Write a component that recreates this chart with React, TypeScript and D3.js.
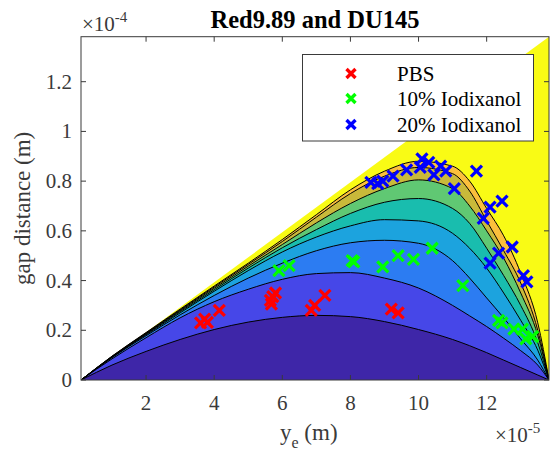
import React from 'react';
import * as d3 from 'd3';

// ---------- data (x in units of 1e-5 m, y in units of 1e-4 m) ----------
const TITLE = 'Red9.89 and DU145';
const X_TICKS = [2, 4, 6, 8, 10, 12];
const X_TICK_LABELS = ['2', '4', '6', '8', '10', '12'];
const Y_TICKS = [0, 0.2, 0.4, 0.6, 0.8, 1, 1.2];
const Y_TICK_LABELS = ['0', '0.2', '0.4', '0.6', '0.8', '1', '1.2'];
const X_DOMAIN = [0.09, 13.83];
const Y_DOMAIN = [0, 1.381];

// boundary of the defined region (gap distance = y_e)
const DIAGONAL = [[0.09, 0], [13.83, 1.381]];

// contour level boundaries, sampled at CURVE_X
const CURVE_X = [0.09, 1, 2, 3, 4, 5, 6, 7, 8, 9, 10, 11, 11.5, 12, 12.5, 13, 13.5, 13.83];
const LEVEL_1 = [0, 0.06, 0.115, 0.163, 0.203, 0.233, 0.252, 0.26, 0.255, 0.235, 0.203, 0.163, 0.138, 0.11, 0.08, 0.05, 0.02, 0];
const LEVEL_2 = [0, 0.085, 0.17, 0.25, 0.315, 0.365, 0.405, 0.428, 0.432, 0.41, 0.37, 0.3, 0.258, 0.215, 0.168, 0.118, 0.06, 0];
const LEVEL_3 = [0, 0.09, 0.178, 0.262, 0.34, 0.41, 0.47, 0.52, 0.552, 0.562, 0.55, 0.48, 0.41, 0.33, 0.25, 0.165, 0.08, 0];
const LEVEL_4 = [0, 0.092, 0.182, 0.27, 0.357, 0.44, 0.515, 0.575, 0.62, 0.645, 0.64, 0.59, 0.53, 0.45, 0.35, 0.24, 0.12, 0];
const LEVEL_5 = [0, 0.093, 0.185, 0.275, 0.363, 0.45, 0.532, 0.605, 0.67, 0.715, 0.73, 0.69, 0.63, 0.53, 0.42, 0.3, 0.15, 0];
const LEVEL_6 = [0, 0.094, 0.187, 0.279, 0.369, 0.458, 0.545, 0.632, 0.71, 0.77, 0.805, 0.77, 0.7, 0.6, 0.49, 0.35, 0.18, 0];
const LEVEL_7 = [0, 0.095, 0.189, 0.282, 0.374, 0.465, 0.557, 0.655, 0.75, 0.82, 0.855, 0.83, 0.76, 0.64, 0.52, 0.39, 0.2, 0];
const LEVEL_8 = [0, 0.096, 0.191, 0.285, 0.378, 0.47, 0.565, 0.665, 0.765, 0.84, 0.88, 0.86, 0.8, 0.69, 0.58, 0.43, 0.23, 0];
const LEVELS = [LEVEL_1, LEVEL_2, LEVEL_3, LEVEL_4, LEVEL_5, LEVEL_6, LEVEL_7, LEVEL_8];
// colour of band below each level boundary, plus the top band
const BAND_COLORS = ['#3e26a8', '#4647e8', '#2c7cf2', '#1ca3de', '#19bdae', '#60c873', '#c9b93a', '#fbbf3c', '#f9fb15'];

const SERIES_NAMES = ['PBS', '10% Iodixanol', '20% Iodixanol'];
const SERIES_COLORS = ['#ff0000', '#00ff00', '#0000ff'];
const PBS = [
  [3.6, 0.23], [3.72, 0.245], [3.8, 0.232], [4.15, 0.28],
  [5.65, 0.32], [5.72, 0.335], [5.8, 0.35], [5.68, 0.305],
  [6.85, 0.28], [6.95, 0.3], [7.25, 0.34], [9.2, 0.285], [9.4, 0.27],
];
const IODIXANOL_10 = [
  [5.9, 0.44], [6.2, 0.46], [8.05, 0.48], [8.1, 0.475], [8.95, 0.455],
  [9.4, 0.5], [9.85, 0.485], [10.4, 0.53], [11.3, 0.38], [12.35, 0.24],
  [12.45, 0.23], [12.8, 0.205], [13.05, 0.205], [13.15, 0.165], [13.35, 0.175],
];
const IODIXANOL_20 = [
  [8.6, 0.795], [8.8, 0.79], [8.95, 0.8], [9.25, 0.82], [9.65, 0.845],
  [10.05, 0.855], [10.1, 0.89], [10.3, 0.875], [10.45, 0.825], [10.65, 0.86],
  [10.8, 0.84], [11.05, 0.77], [11.7, 0.84], [11.9, 0.65], [12.1, 0.695],
  [12.45, 0.72], [12.1, 0.47], [12.35, 0.51], [12.75, 0.535], [13.08, 0.42], [13.18, 0.395],
];
const SERIES = [PBS, IODIXANOL_10, IODIXANOL_20];

// ---------- layout ----------
const W = 552;
const H = 454;
const L = 81;
const R = 549;
const T = 36.7;
const B = 380;
const FONT = '"Liberation Serif", "Times New Roman", serif';
const AXIS = '#3a3a3a';

function Cross({ x, y, color, s = 5.5, w = 3.2 }: { x: number; y: number; color: string; s?: number; w?: number }) {
  return (
    <g stroke={color} strokeWidth={w} strokeLinecap="butt">
      <line x1={x - s} y1={y - s} x2={x + s} y2={y + s} />
      <line x1={x - s} y1={y + s} x2={x + s} y2={y - s} />
    </g>
  );
}

export default function App() {
  const xs = d3.scaleLinear().domain(X_DOMAIN).range([L, R]);
  const ys = d3.scaleLinear().domain(Y_DOMAIN).range([B, T]);

  const area = d3
    .area<number>()
    .x((_, i) => xs(CURVE_X[i]))
    .y0(ys(0))
    .curve(d3.curveMonotoneX);
  const line = d3
    .line<number>()
    .x((_, i) => xs(CURVE_X[i]))
    .curve(d3.curveMonotoneX);

  const triangle = `M${xs(DIAGONAL[0][0])},${ys(DIAGONAL[0][1])}L${xs(DIAGONAL[1][0])},${ys(
    DIAGONAL[1][1]
  )}L${xs(DIAGONAL[1][0])},${ys(0)}Z`;

  const legendRows = [73.5, 98.5, 124.5];

  return (
    <svg
      width={W}
      height={H}
      style={{ position: 'absolute', left: 0, top: 0, background: '#fff' }}
      fontFamily={FONT}
    >
      <defs>
        <clipPath id="plotclip">
          <rect x={L} y={T} width={R - L} height={B - T} />
        </clipPath>
      </defs>
      <rect x={0} y={0} width={W} height={H} fill="#fff" />
      <g clipPath="url(#plotclip)">
        <path d={triangle} fill={BAND_COLORS[8]} />
        {LEVELS.slice()
          .map((lv, i) => ({ lv, i }))
          .reverse()
          .map(({ lv, i }) => (
            <path key={'a' + i} d={area.y1((d) => ys(d))(lv) || ''} fill={BAND_COLORS[i]} />
          ))}
        {LEVELS.map((lv, i) => (
          <path key={'l' + i} d={line.y((d) => ys(d))(lv) || ''} fill="none" stroke="#000" strokeWidth={1} />
        ))}
        {SERIES.map((pts, si) =>
          pts.map((p, j) => <Cross key={si + '-' + j} x={xs(p[0])} y={ys(p[1])} color={SERIES_COLORS[si]} />)
        )}
      </g>

      {/* axes box */}
      <rect x={L} y={T} width={R - L} height={B - T} fill="none" stroke={AXIS} strokeWidth={1} />
      {X_TICKS.map((t, i) => (
        <g key={'xt' + i}>
          <line x1={xs(t)} x2={xs(t)} y1={B} y2={B - 5} stroke={AXIS} />
          <line x1={xs(t)} x2={xs(t)} y1={T} y2={T + 5} stroke={AXIS} />
          <text x={xs(t)} y={410} textAnchor="middle" fontSize={21} fill={AXIS}>
            {X_TICK_LABELS[i]}
          </text>
        </g>
      ))}
      {Y_TICKS.map((t, i) => (
        <g key={'yt' + i}>
          <line x1={L} x2={L + 5} y1={ys(t)} y2={ys(t)} stroke={AXIS} />
          <line x1={R} x2={R - 5} y1={ys(t)} y2={ys(t)} stroke={AXIS} />
          <text x={72} y={ys(t) + 7} textAnchor="end" fontSize={21} fill={AXIS}>
            {Y_TICK_LABELS[i]}
          </text>
        </g>
      ))}

      {/* exponent labels */}
      <text x={82} y={31} fontSize={21} fill={AXIS}>
        ×10<tspan fontSize={15} dy={-9}>-4</tspan>
      </text>
      <text x={495} y={442} fontSize={21} fill={AXIS}>
        ×10<tspan fontSize={15} dy={-9}>-5</tspan>
      </text>

      {/* title and axis labels */}
      <text x={(L + R) / 2} y={28} textAnchor="middle" fontSize={24.5} fontWeight="bold" fill="#000">
        {TITLE}
      </text>
      <text x={280} y={440} fontSize={23} fill={AXIS}>
        y<tspan fontSize={16} dy={8}>e</tspan>
        <tspan dy={-8}> (m)</tspan>
      </text>
      <text
        transform={`translate(30,${(T + B) / 2}) rotate(-90)`}
        textAnchor="middle"
        fontSize={23}
        fill={AXIS}
      >
        gap distance (m)
      </text>

      {/* legend */}
      <rect x={302.5} y={54.5} width={231} height={86.5} fill="#fff" stroke={AXIS} strokeWidth={1} />
      {SERIES_NAMES.map((n, i) => (
        <g key={'lg' + i}>
          <Cross x={351} y={legendRows[i]} color={SERIES_COLORS[i]} s={4.5} w={3.4} />
          <text x={397} y={legendRows[i] + 7} fontSize={21} fill="#000">
            {n}
          </text>
        </g>
      ))}
    </svg>
  );
}
